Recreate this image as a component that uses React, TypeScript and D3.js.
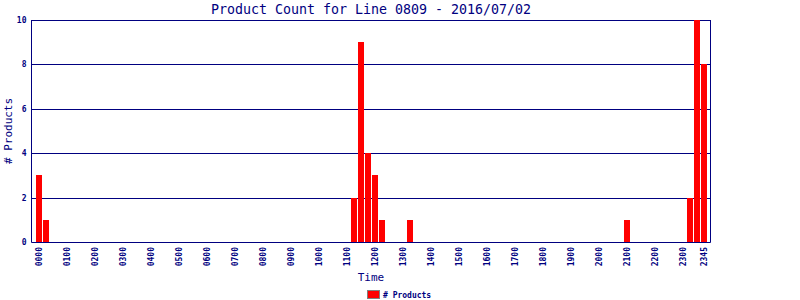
import React from "react";
import * as d3 from "d3";

const title = "Product Count for Line 0809 - 2016/07/02";
const yLabel = "# Products";
const xLabel = "Time";
const seriesName = "# Products";

// all 15-minute slots of the day (categories)
const hours = ["00","01","02","03","04","05","06","07","08","09","10","11","12","13","14","15","16","17","18","19","20","21","22","23"];
const quarters = ["00","15","30","45"];
const slots: string[] = hours.flatMap((h) => quarters.map((q) => h + q));

// non-zero readings
const barTimes = ["0000","0015","1115","1130","1145","1200","1215","1315","2100","2315","2330","2345"];
const barValues = [3, 1, 2, 9, 4, 3, 1, 1, 1, 2, 10, 8];

const xTickLabels = ["0000","0100","0200","0300","0400","0500","0600","0700","0800","0900","1000","1100","1200","1300","1400","1500","1600","1700","1800","1900","2000","2100","2200","2300","2345"];
const yTicks = [0, 2, 4, 6, 8, 10];

const W = 800, H = 300;
const left = 31.5, right = 710.5, top = 20, bottom = 242;
const NAVY = "#000080";
const MONO = "'DejaVu Sans Mono', 'Liberation Mono', monospace";

export default function App() {
  const x = d3.scaleBand<string>().domain(slots).range([35.5, 707.5]).paddingInner(1 / 7).paddingOuter(1 / 14);
  const y = d3.scaleLinear().domain([0, 10]).range([bottom, top]);
  const valueMap = new Map(barTimes.map((t, i) => [t, barValues[i]]));
  const cx = (left + right) / 2;
  return (
    <svg width={W} height={H} style={{ position: "absolute", left: 0, top: 0, background: "#fff" }}>
      <text x={cx} y={14} textAnchor="middle" fill={NAVY} fontFamily={MONO} fontSize={13.3}>{title}</text>
      {/* gridlines */}
      {yTicks.filter((t) => t > 0).map((t) => (
        <line key={t} x1={left} x2={right} y1={Math.round(y(t)) + 0.5} y2={Math.round(y(t)) + 0.5} stroke={NAVY} strokeWidth={1} />
      ))}
      {/* bars */}
      {slots.map((s) => {
        const v = valueMap.get(s) || 0;
        if (!v) return null;
        const yt = Math.round(y(v));
        return <rect key={s} x={x(s)} y={yt} width={x.bandwidth()} height={bottom - yt} fill="#ff0000" />;
      })}
      {/* frame */}
      <line x1={left} x2={left} y1={top} y2={bottom + 0.5} stroke={NAVY} strokeWidth={1} />
      <line x1={right} x2={right} y1={top} y2={bottom + 0.5} stroke={NAVY} strokeWidth={1} />
      <line x1={left} x2={right} y1={bottom + 0.5} y2={bottom + 0.5} stroke={NAVY} strokeWidth={1} />
      {/* y tick labels */}
      {yTicks.map((t) => (
        <text key={t} x={26.5} y={y(t) + 3} textAnchor="end" fill={NAVY} fontFamily={MONO} fontSize={8} fontWeight="bold">{t}</text>
      ))}
      {/* x tick labels */}
      {xTickLabels.map((l) => {
        const px = (x(l) as number) + x.bandwidth() / 2;
        return (
          <text key={l} transform={`translate(${px + 3},${247}) rotate(-90)`} textAnchor="end" fill={NAVY} fontFamily={MONO} fontSize={8} fontWeight="bold">{l}</text>
        );
      })}
      <text x={cx} y={281} textAnchor="middle" fill={NAVY} fontFamily={MONO} fontSize={11}>{xLabel}</text>
      <text transform={`translate(${12},${131}) rotate(-90)`} textAnchor="middle" fill={NAVY} fontFamily={MONO} fontSize={11}>{yLabel}</text>
      {/* legend */}
      <rect x={367.5} y={290.5} width={12} height={8} fill="#ff0000" stroke="#808080" strokeWidth={1} />
      <text x={383} y={298} fill={NAVY} fontFamily={MONO} fontSize={8} fontWeight="bold">{seriesName}</text>
    </svg>
  );
}
